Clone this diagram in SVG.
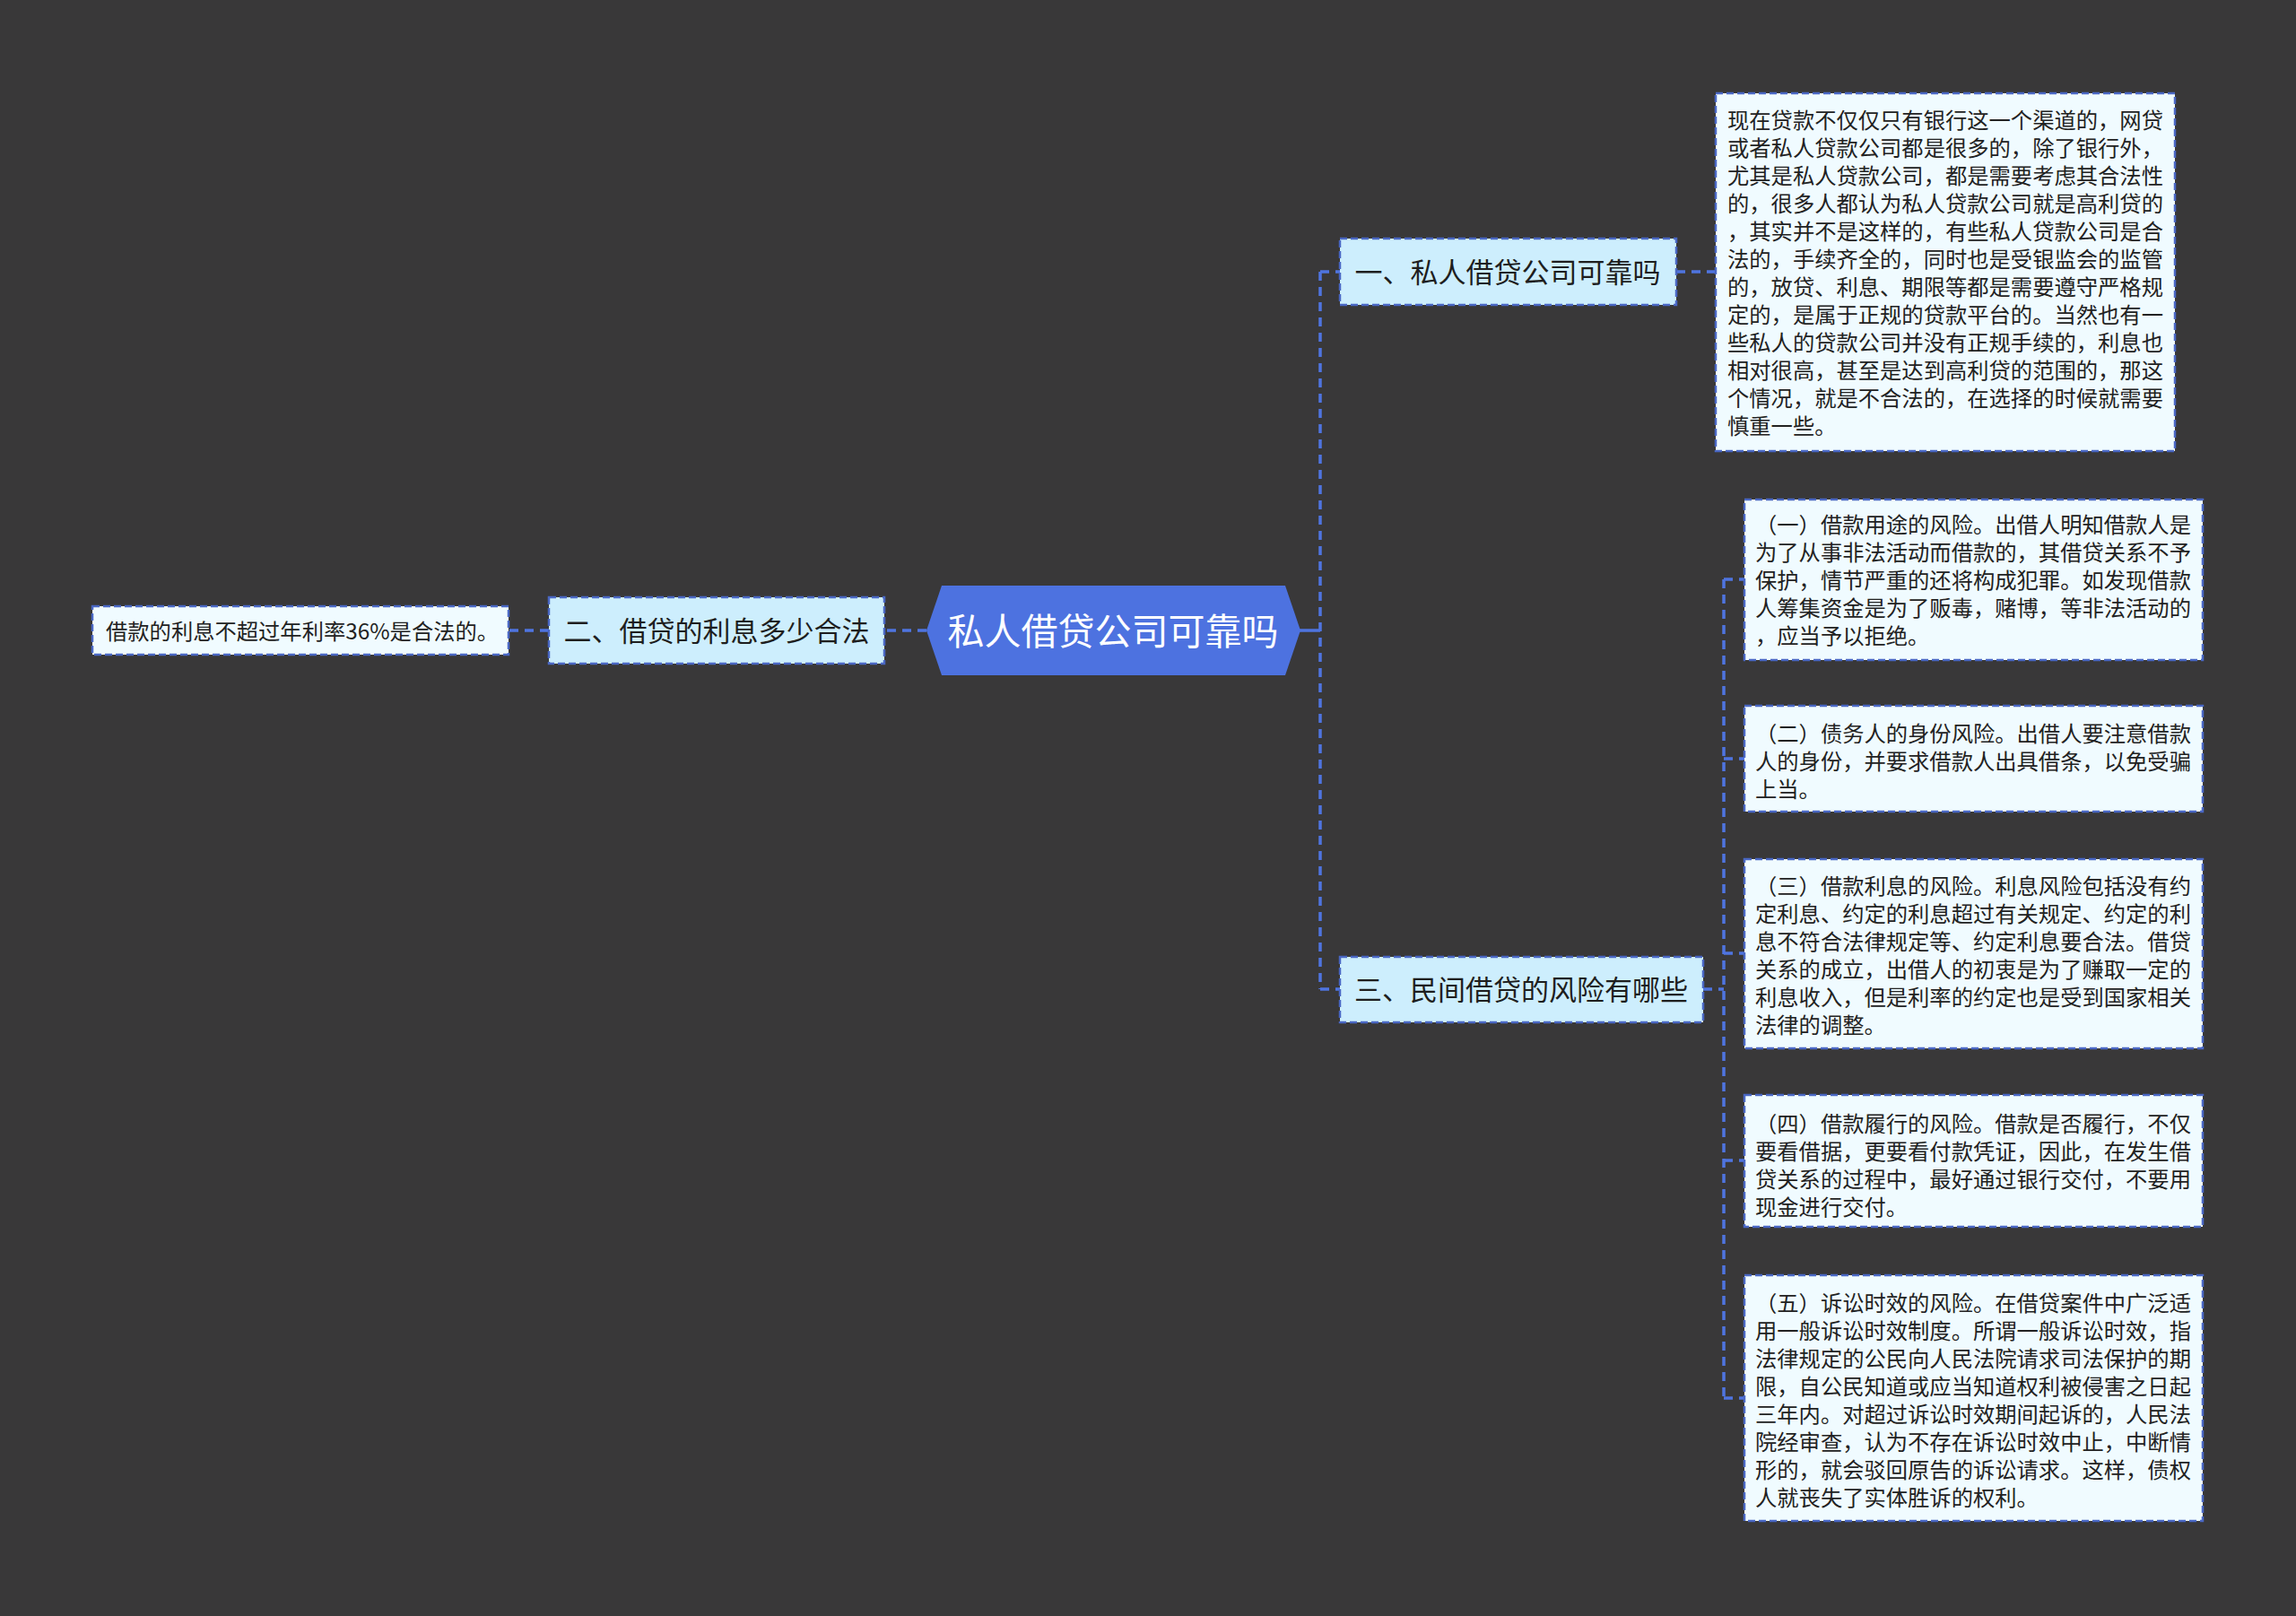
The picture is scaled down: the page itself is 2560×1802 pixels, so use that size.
<svg xmlns="http://www.w3.org/2000/svg" width="2560" height="1802" viewBox="0 0 2560 1802">
<style>
.bg{fill:#393839}
.conn{fill:none;stroke:#4f74e0;stroke-width:3.5;stroke-dasharray:10 7}
.solid{fill:none;stroke:#4f74e0;stroke-width:3.5}
.root{fill:#4d72e0}
.sub{fill:#cdeefd;stroke:#4a67c4;stroke-width:2.5;stroke-dasharray:8 4}
.leaf{fill:#f0fbff;stroke:#4a67c4;stroke-width:2.5;stroke-dasharray:8 4}
text{font-family:"Noto Sans CJK SC","Noto Sans",sans-serif}
.rt{fill:#ffffff;font-size:41px}
.st{fill:#1e1e1e;font-size:31px}
.lt{fill:#222222;font-size:24.3px}
</style>
<rect class="bg" x="0" y="0" width="2560" height="1802"/>
<g id="connectors">
<path class="solid" d="M1448 703 H1472"/>
<path class="conn" d="M1472 303 V1103 M1472 303 H1494 M1472 1103 H1494"/>
<path class="conn" d="M1033 703 H986 M612 703 H567"/>
<path class="conn" d="M1869 303 H1913"/>
<path class="conn" d="M1899 1103 H1922 M1922 646 V1559 M1922 646 H1945 M1922 846 H1945 M1922 1063 H1945 M1922 1294 H1945 M1922 1559 H1945"/>
</g>
<g id="root">
<polygon class="root" points="1033,703 1050,653 1433,653 1450,703 1433,753 1050,753"/>
<text class="rt" x="1241" y="719" text-anchor="middle">私人借贷公司可靠吗</text>
</g>
<g id="n1">
<rect class="sub" x="1494" y="266" width="375" height="74"/>
<text class="st" x="1681" y="315" text-anchor="middle">一、私人借贷公司可靠吗</text>
</g>
<g id="n2">
<rect class="sub" x="612" y="666" width="374" height="74"/>
<text class="st" x="799" y="715" text-anchor="middle">二、借贷的利息多少合法</text>
</g>
<g id="n3">
<rect class="sub" x="1494" y="1067" width="405" height="73"/>
<text class="st" x="1696" y="1115" text-anchor="middle">三、民间借贷的风险有哪些</text>
</g>
<g id="leaf2">
<rect class="leaf" x="103" y="676" width="464" height="54"/>
<text class="lt" x="118" y="713">借款的利息不超过年利率36%是合法的。</text>
</g>
<g id="leaf1">
<rect class="leaf" x="1913" y="104" width="512" height="399"/>
<text class="lt">
<tspan x="1926" y="143">现在贷款不仅仅只有银行这一个渠道的，网贷</tspan>
<tspan x="1926" y="174">或者私人贷款公司都是很多的，除了银行外，</tspan>
<tspan x="1926" y="205">尤其是私人贷款公司，都是需要考虑其合法性</tspan>
<tspan x="1926" y="236">的，很多人都认为私人贷款公司就是高利贷的</tspan>
<tspan x="1926" y="267">，其实并不是这样的，有些私人贷款公司是合</tspan>
<tspan x="1926" y="298">法的，手续齐全的，同时也是受银监会的监管</tspan>
<tspan x="1926" y="329">的，放贷、利息、期限等都是需要遵守严格规</tspan>
<tspan x="1926" y="360">定的，是属于正规的贷款平台的。当然也有一</tspan>
<tspan x="1926" y="391">些私人的贷款公司并没有正规手续的，利息也</tspan>
<tspan x="1926" y="422">相对很高，甚至是达到高利贷的范围的，那这</tspan>
<tspan x="1926" y="453">个情况，就是不合法的，在选择的时候就需要</tspan>
<tspan x="1926" y="484">慎重一些。</tspan>
</text>
</g>
<g id="leaf3a">
<rect class="leaf" x="1945" y="557" width="511" height="179"/>
<text class="lt">
<tspan x="1957" y="594">（一）借款用途的风险。出借人明知借款人是</tspan>
<tspan x="1957" y="625">为了从事非法活动而借款的，其借贷关系不予</tspan>
<tspan x="1957" y="656">保护，情节严重的还将构成犯罪。如发现借款</tspan>
<tspan x="1957" y="687">人筹集资金是为了贩毒，赌博，等非法活动的</tspan>
<tspan x="1957" y="718">，应当予以拒绝。</tspan>
</text>
</g>
<g id="leaf3b">
<rect class="leaf" x="1945" y="787" width="511" height="118"/>
<text class="lt">
<tspan x="1957" y="827">（二）债务人的身份风险。出借人要注意借款</tspan>
<tspan x="1957" y="858">人的身份，并要求借款人出具借条，以免受骗</tspan>
<tspan x="1957" y="889">上当。</tspan>
</text>
</g>
<g id="leaf3c">
<rect class="leaf" x="1945" y="958" width="511" height="211"/>
<text class="lt">
<tspan x="1957" y="997">（三）借款利息的风险。利息风险包括没有约</tspan>
<tspan x="1957" y="1028">定利息、约定的利息超过有关规定、约定的利</tspan>
<tspan x="1957" y="1059">息不符合法律规定等、约定利息要合法。借贷</tspan>
<tspan x="1957" y="1090">关系的成立，出借人的初衷是为了赚取一定的</tspan>
<tspan x="1957" y="1121">利息收入，但是利率的约定也是受到国家相关</tspan>
<tspan x="1957" y="1152">法律的调整。</tspan>
</text>
</g>
<g id="leaf3d">
<rect class="leaf" x="1945" y="1221" width="511" height="147"/>
<text class="lt">
<tspan x="1957" y="1262">（四）借款履行的风险。借款是否履行，不仅</tspan>
<tspan x="1957" y="1293">要看借据，更要看付款凭证，因此，在发生借</tspan>
<tspan x="1957" y="1324">贷关系的过程中，最好通过银行交付，不要用</tspan>
<tspan x="1957" y="1355">现金进行交付。</tspan>
</text>
</g>
<g id="leaf3e">
<rect class="leaf" x="1945" y="1422" width="511" height="274"/>
<text class="lt">
<tspan x="1957" y="1462">（五）诉讼时效的风险。在借贷案件中广泛适</tspan>
<tspan x="1957" y="1493">用一般诉讼时效制度。所谓一般诉讼时效，指</tspan>
<tspan x="1957" y="1524">法律规定的公民向人民法院请求司法保护的期</tspan>
<tspan x="1957" y="1555">限，自公民知道或应当知道权利被侵害之日起</tspan>
<tspan x="1957" y="1586">三年内。对超过诉讼时效期间起诉的，人民法</tspan>
<tspan x="1957" y="1617">院经审查，认为不存在诉讼时效中止，中断情</tspan>
<tspan x="1957" y="1648">形的，就会驳回原告的诉讼请求。这样，债权</tspan>
<tspan x="1957" y="1679">人就丧失了实体胜诉的权利。</tspan>
</text>
</g>
</svg>
